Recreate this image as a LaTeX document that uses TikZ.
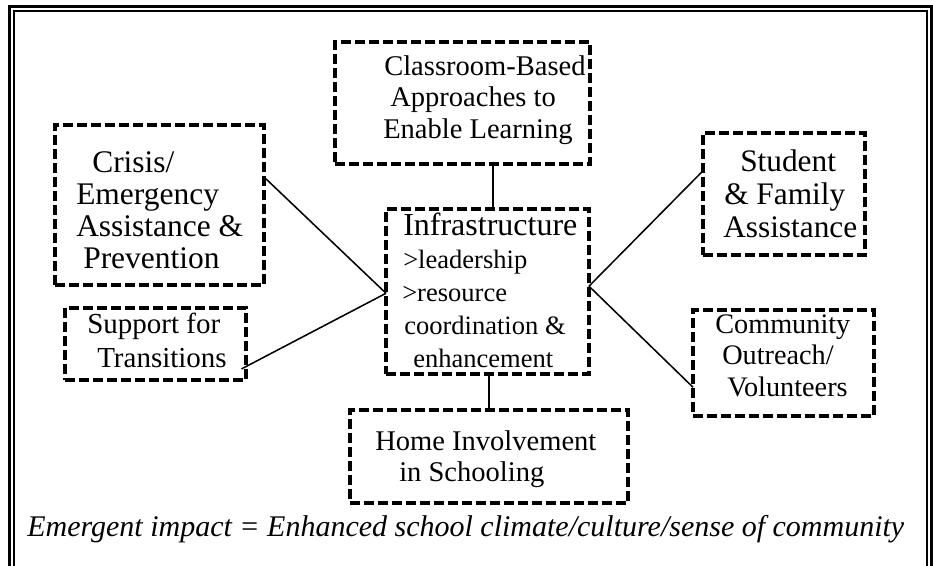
\documentclass[tikz,border=0pt]{standalone}
\usepackage{fontspec}
\setmainfont{Liberation Serif}
\begin{document}
\begin{tikzpicture}[x=0.75pt,y=-0.75pt,
  dbox/.style={draw, line width=2.5pt, dash pattern=on 7.5pt off 3pt, inner sep=0pt, outer sep=0pt},
  txt/.style={anchor=base west, inner sep=0pt, align=left},
  link/.style={draw, line width=1.15pt},
  frameout/.style={draw, line width=2.4pt},
  framein/.style={draw, line width=1.6pt}]
\useasboundingbox (0,0) rectangle (933,565);
\clip (0,0) rectangle (933,565);
% frame
\draw[frameout] (9.5,6.5) rectangle (931.5,620);
\draw[framein] (14,11) rectangle (927,620);
% boxes
\node[dbox, minimum width=191.25pt, minimum height=91.5pt] (cls) at (462.5,103) {};
\node[dbox, minimum width=152.25pt, minimum height=123.75pt] (inf) at (487.5,291.5) {};
\node[dbox, minimum width=156.75pt, minimum height=120pt] (crisis) at (159.5,205) {};
\node[dbox, minimum width=135.75pt, minimum height=54pt] (support) at (155.5,344) {};
\node[dbox, minimum width=121.5pt, minimum height=91.5pt] (student) at (784,194) {};
\node[dbox, minimum width=135.75pt, minimum height=79.5pt] (community) at (783.5,363) {};
\node[dbox, minimum width=208.5pt, minimum height=69.75pt] (home) at (489,456.5) {};
% texts (anchored at the baseline of the last line)
\node[txt, font=\fontsize{21.4pt}{23.6pt}\selectfont] (clsT) at (383,138)
  {\hspace*{0.75pt}Classroom-Based\\\hspace*{5.25pt}Approaches to\\Enable Learning};
\node[txt, font=\fontsize{19.9pt}{24.75pt}\selectfont] (infT) at (402,367)
  {\hspace*{0.75pt}{\fontsize{24pt}{24.75pt}\selectfont Infrastructure}\\\hspace*{0.75pt}>leadership\\>resource\\\hspace*{1.5pt}coordination \&\\\hspace*{8.25pt}enhancement};
\node[txt, font=\fontsize{23.6pt}{24pt}\selectfont] (crisisT) at (76,268)
  {\hspace*{12pt}Crisis/\\Emergency\\Assistance \&\\\hspace*{5.25pt}Prevention};
\node[txt, font=\fontsize{21.75pt}{25.5pt}\selectfont] (supportT) at (87,367)
  {Support for\\\hspace*{7.5pt}Transitions};
\node[txt, font=\fontsize{23.5pt}{24.4pt}\selectfont] (studentT) at (723,237)
  {\hspace*{12.75pt}Student\\\hspace*{0.75pt}\& Family\\Assistance};
\node[txt, font=\fontsize{21.2pt}{23.6pt}\selectfont] (communityT) at (715,396)
  {Community\\\hspace*{5.25pt}Outreach/\\\hspace*{9pt}Volunteers};
\node[txt, font=\fontsize{21.4pt}{23.25pt}\selectfont] (homeT) at (375,481)
  {Home Involvement\\\hspace*{18pt}in Schooling};
\node[txt, font=\fontsize{22.5pt}{26pt}\selectfont\itshape] (impact) at (27,536)
  {Emergent impact = Enhanced school climate/culture/sense of community};
% connectors
\draw[link] (crisis.15.5) -- (inf.181);
\draw[link, shorten <=-3.75pt] (support.-14) -- (inf.181);
\draw[link] (inf.3) -- (student.164);
\draw[link] (inf.3) -- (community.195);
\draw[link] ([xshift=4pt]inf.north) -- ([xshift=4pt]inf.north |- cls.south);
\draw[link] (home.north) -- (home.north |- inf.south);
\end{tikzpicture}
\end{document}
